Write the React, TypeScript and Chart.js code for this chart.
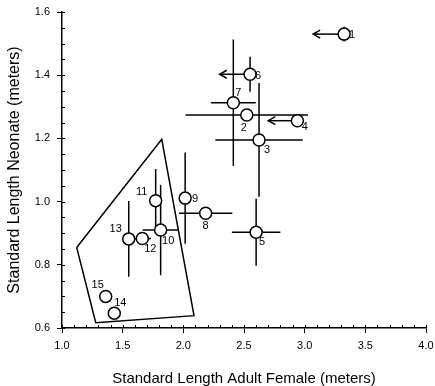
import React, { useEffect, useRef } from "react";
import { Chart, registerables } from "chart.js";

Chart.register(...registerables);

// ---- data ----
const speciesIds = ["1", "2", "3", "4", "5", "6", "7", "8", "9", "10", "11", "12", "13", "14", "15"];
const adultFemaleLength = [3.325, 2.523, 2.624, 2.94, 2.6, 2.55, 2.412, 2.184, 2.015, 1.813, 1.772, 1.662, 1.55, 1.431, 1.36];
const neonateLength = [1.53, 1.274, 1.195, 1.256, 0.903, 1.403, 1.313, 0.963, 1.011, 0.91, 1.003, 0.883, 0.882, 0.647, 0.7];
const adultErr = [0, 0.505, 0.36, 0, 0.2, 0, 0.185, 0.22, 0, 0.148, 0.05, 0.07, 0, 0.05, 0.05];
const neonateErr = [0.023, 0, 0.18, 0.015, 0.106, 0.055, 0.2, 0, 0.144, 0.143, 0.1, 0, 0.12, 0, 0];
const arrowTo: (number | null)[] = [3.07, null, null, 2.7, null, 2.3, null, null, null, null, null, null, null, null, null];
const hullX = [1.121, 1.822, 2.088, 1.278, 1.121];
const hullY = [0.855, 1.197, 0.639, 0.617, 0.855];
const xMin = 1.0, xMax = 4.0, xStep = 0.5, xMinorStep = 0.1;
const yMin = 0.6, yMax = 1.6, yStep = 0.2, yMinorStep = 0.05;
const xTitle = "Standard Length Adult Female (meters)";
const yTitle = "Standard Length Neonate (meters)";

// ---- label placement (styling, px offsets from point centre) ----
const labelOffsets: [number, number][] = [
  [8, 1], [-3, 13], [8, 10], [7.5, 6], [6, 9.5], [8, 2], [5, -10], [0, 13],
  [10, 1], [7.5, 11], [-14, -9], [8, 10], [-13, -10], [6, -10], [-8, -11],
];

const FONT = "'Liberation Sans', Arial, Helvetica, sans-serif";

const errorPlugin = {
  id: "errorBars",
  beforeDatasetsDraw(chart: any) {
    const { ctx, scales } = chart;
    const x = scales.x, y = scales.y;
    ctx.save();
    ctx.strokeStyle = "#000";
    ctx.lineWidth = 1.5;
    for (let i = 0; i < speciesIds.length; i++) {
      const px = x.getPixelForValue(adultFemaleLength[i]);
      const py = y.getPixelForValue(neonateLength[i]);
      if (adultErr[i]) {
        ctx.beginPath();
        ctx.moveTo(x.getPixelForValue(adultFemaleLength[i] - adultErr[i]), py);
        ctx.lineTo(x.getPixelForValue(adultFemaleLength[i] + adultErr[i]), py);
        ctx.stroke();
      }
      if (neonateErr[i]) {
        ctx.beginPath();
        ctx.moveTo(px, y.getPixelForValue(neonateLength[i] - neonateErr[i]));
        ctx.lineTo(px, y.getPixelForValue(neonateLength[i] + neonateErr[i]));
        ctx.stroke();
      }
      const a = arrowTo[i];
      if (a !== null) {
        const tx = x.getPixelForValue(a);
        ctx.beginPath();
        ctx.moveTo(px, py);
        ctx.lineTo(tx, py);
        ctx.stroke();
        ctx.beginPath();
        ctx.moveTo(tx + 7, py - 4);
        ctx.lineTo(tx, py);
        ctx.lineTo(tx + 7, py + 4);
        ctx.stroke();
      }
    }
    ctx.restore();
  },
  afterDatasetsDraw(chart: any) {
    const { ctx, scales } = chart;
    const x = scales.x, y = scales.y;
    ctx.save();
    ctx.fillStyle = "#000";
    ctx.font = `11px ${FONT}`;
    ctx.textAlign = "center";
    ctx.textBaseline = "middle";
    for (let i = 0; i < speciesIds.length; i++) {
      const px = x.getPixelForValue(adultFemaleLength[i]);
      const py = y.getPixelForValue(neonateLength[i]);
      ctx.fillText(speciesIds[i], px + labelOffsets[i][0], py + labelOffsets[i][1]);
    }
    ctx.restore();
  },
  afterDraw(chart: any) {
    const { ctx, scales } = chart;
    const x = scales.x, y = scales.y;
    ctx.save();
    ctx.strokeStyle = "#000";
    ctx.lineWidth = 1;
    const ax = y.right;
    const ay = x.top;
    const nX = Math.round((xMax - xMin) / xMinorStep);
    for (let k = 0; k <= nX; k++) {
      const v = xMin + k * xMinorStep;
      const px = Math.round(x.getPixelForValue(v)) + 0.5;
      ctx.beginPath();
      ctx.moveTo(px, ay);
      ctx.lineTo(px, ay - 3);
      ctx.stroke();
    }
    const nY = Math.round((yMax - yMin) / yMinorStep);
    for (let k = 0; k <= nY; k++) {
      const v = yMin + k * yMinorStep;
      const py = Math.round(y.getPixelForValue(v)) + 0.5;
      ctx.beginPath();
      ctx.moveTo(ax, py);
      ctx.lineTo(ax + 3, py);
      ctx.stroke();
    }
    ctx.restore();
  },
};

export default function App() {
  const ref = useRef<HTMLCanvasElement | null>(null);
  useEffect(() => {
    if (!ref.current) return;
    const chart = new Chart(ref.current, {
      type: "scatter",
      data: {
        datasets: [
          {
            label: "points",
            data: adultFemaleLength.map((v, i) => ({ x: v, y: neonateLength[i] })),
            pointRadius: 6,
            pointBackgroundColor: "#fff",
            pointBorderColor: "#000",
            pointBorderWidth: 1.5,
            order: 1,
          },
          {
            label: "hull",
            type: "line",
            data: hullX.map((v, i) => ({ x: v, y: hullY[i] })),
            showLine: true,
            borderColor: "#000",
            borderWidth: 1.5,
            pointRadius: 0,
            fill: false,
            tension: 0,
            order: 2,
          } as any,
        ],
      },
      options: {
        responsive: false,
        animation: false,
        events: [],
        layout: { padding: { top: 12, right: 9, left: 0, bottom: 0 } },
        plugins: { legend: { display: false }, tooltip: { enabled: false } },
        scales: {
          x: {
            type: "linear",
            min: xMin,
            max: xMax,
            afterFit: (s: any) => { s.height = 58; s.paddingRight = 0; s.paddingLeft = 0; },
            ticks: {
              stepSize: xStep,
              callback: (v: any) => Number(v).toFixed(1),
              color: "#000",
              font: { size: 11, family: FONT },
              padding: 6,
            },
            grid: { drawOnChartArea: false, color: "#000", lineWidth: 1, tickLength: 5 },
            border: { color: "#000", width: 1.5 },
            title: { display: true, text: xTitle, color: "#000", font: { size: 15, family: FONT }, padding: { top: 4, bottom: -2 } },
          },
          y: {
            type: "linear",
            min: yMin,
            max: yMax,
            afterFit: (s: any) => { s.width = 62; s.paddingTop = 0; s.paddingBottom = 0; },
            ticks: {
              stepSize: yStep,
              callback: (v: any) => Number(v).toFixed(1),
              color: "#000",
              font: { size: 11, family: FONT },
              padding: 7,
            },
            grid: { drawOnChartArea: false, color: "#000", lineWidth: 1, tickLength: 5 },
            border: { color: "#000", width: 1.5 },
            title: { display: true, text: yTitle, color: "#000", font: { size: 16, family: FONT }, padding: { top: 5, bottom: 4 } },
          },
        },
      },
      plugins: [errorPlugin],
    });
    return () => chart.destroy();
  }, []);
  return (
    <div style={{ position: "fixed", left: 0, top: 0, width: 435, height: 386, background: "#fff" }}>
      <canvas ref={ref} width={435} height={386} />
    </div>
  );
}
